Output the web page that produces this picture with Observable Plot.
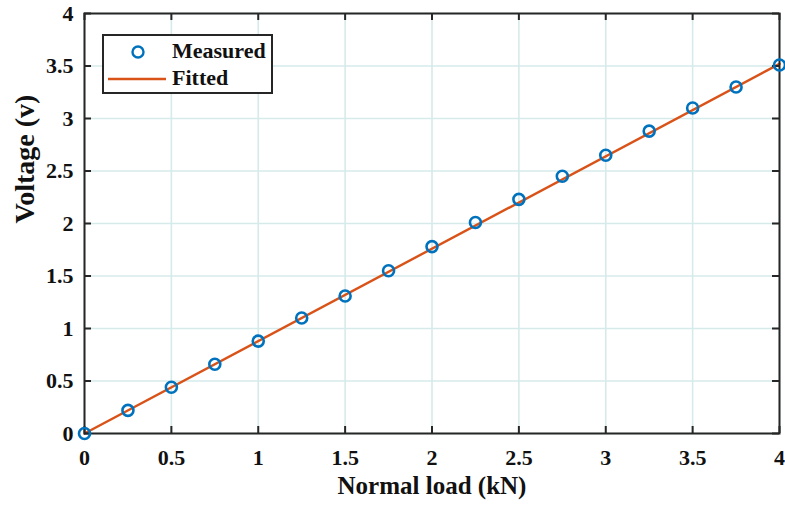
<!DOCTYPE html>
<html>
<head>
<meta charset="utf-8">
<script src="https://cdn.jsdelivr.net/npm/d3@7"></script>
<script src="https://cdn.jsdelivr.net/npm/@observablehq/plot@0.6"></script>
<style>
  html, body { margin: 0; padding: 0; background: #fff; }
  #wrap { position: relative; width: 785px; height: 508px; font-family: "Liberation Serif", serif; font-weight: bold; }
  #chart svg, #chart svg text { font-family: "Liberation Serif", serif !important; font-weight: bold; }
  #legend { position: absolute; left: 102px; top: 34px; width: 167px; height: 56px; border: 2px solid #262626; background: #fff; }
  #legend .item { position: absolute; left: 68px; font-size: 22px; color: #111; line-height: 1; white-space: nowrap; font-family: "Liberation Serif", serif; }
  #legend svg { position: absolute; left: 0; top: 0; }
</style>
</head>
<body>
<div id="wrap">
  <div id="chart"></div>
  <div id="legend">
    <svg width="66" height="56">
      <circle cx="34" cy="16" r="5.5" fill="none" stroke="#0072BD" stroke-width="2.4"></circle>
      <line x1="4" x2="62" y1="43" y2="43" stroke="#D95319" stroke-width="2.4"></line>
    </svg>
    <span class="item" style="top:4px">Measured</span>
    <span class="item" style="top:31px">Fitted</span>
  </div>
</div>
<script>
// Data
const loadKN = [0, 0.25, 0.5, 0.75, 1.0, 1.25, 1.5, 1.75, 2.0, 2.25, 2.5, 2.75, 3.0, 3.25, 3.5, 3.75, 4.0];
const measuredV = [0, 0.22, 0.44, 0.66, 0.88, 1.10, 1.31, 1.55, 1.78, 2.01, 2.23, 2.45, 2.65, 2.88, 3.10, 3.30, 3.51];
const fittedLoad = [0, 4];
const fittedV = [0, 3.52];
const xTicks = [0, 0.5, 1, 1.5, 2, 2.5, 3, 3.5, 4];
const yTicks = [0, 0.5, 1, 1.5, 2, 2.5, 3, 3.5, 4];
const xLabel = "Normal load (kN)";
const yLabel = "Voltage (v)";

const measured = loadKN.map((x, i) => ({x, y: measuredV[i]}));
const fitted = fittedLoad.map((x, i) => ({x, y: fittedV[i]}));

const W = 785, H = 508;
const mL = 84, mR = 6, mT = 13, mB = 75;
const innerW = W - mL - mR, innerH = H - mT - mB;
const tickLen = 7;
const FF = "Liberation Serif";

const chart = Plot.plot({
  width: W,
  height: H,
  marginLeft: mL,
  marginRight: mR,
  marginTop: mT,
  marginBottom: mB,
  style: {fontFamily: FF, fontWeight: "bold", background: "#fff", color: "#111"},
  x: {domain: [0, 4], axis: null},
  y: {domain: [0, 4], axis: null},
  marks: [
    Plot.ruleX(xTicks, {x: d => d, stroke: "#d6eaea", strokeWidth: 1.6}),
    Plot.ruleY(yTicks, {y: d => d, stroke: "#d6eaea", strokeWidth: 1.6}),
    Plot.line(fitted, {x: "x", y: "y", stroke: "#D95319", strokeWidth: 2.4}),
    Plot.frame({stroke: "#262626", strokeWidth: 2}),
    Plot.tickX(xTicks, {x: d => d, insetTop: innerH - tickLen, stroke: "#262626", strokeWidth: 2}),
    Plot.tickX(xTicks, {x: d => d, insetBottom: innerH - tickLen, stroke: "#262626", strokeWidth: 2}),
    Plot.tickY(yTicks, {y: d => d, insetRight: innerW - tickLen, stroke: "#262626", strokeWidth: 2}),
    Plot.tickY(yTicks, {y: d => d, insetLeft: innerW - tickLen, stroke: "#262626", strokeWidth: 2}),
    Plot.dot(measured, {x: "x", y: "y", r: 5.5, stroke: "#0072BD", strokeWidth: 2.6, fill: "none"}),
    Plot.axisX(xTicks, {anchor: "bottom", tickSize: 0, tickPadding: 16, label: null, fontSize: 22, fontWeight: "bold", fontFamily: FF, tickFormat: d => String(d)}),
    Plot.axisY(yTicks, {anchor: "left", tickSize: 0, tickPadding: 11, label: null, fontSize: 22, fontWeight: "bold", fontFamily: FF, tickFormat: d => String(d)}),
    Plot.text([xLabel], {frameAnchor: "bottom", dy: 60, text: d => d, fontSize: 25, fontWeight: "bold", fontFamily: FF, fill: "#111"}),
    Plot.text([yLabel], {frameAnchor: "left", dx: -59, rotate: -90, text: d => d, fontSize: 28, fontWeight: "bold", fontFamily: FF, fill: "#111"})
  ]
});
document.getElementById("chart").appendChild(chart);
</script>
</body>
</html>
